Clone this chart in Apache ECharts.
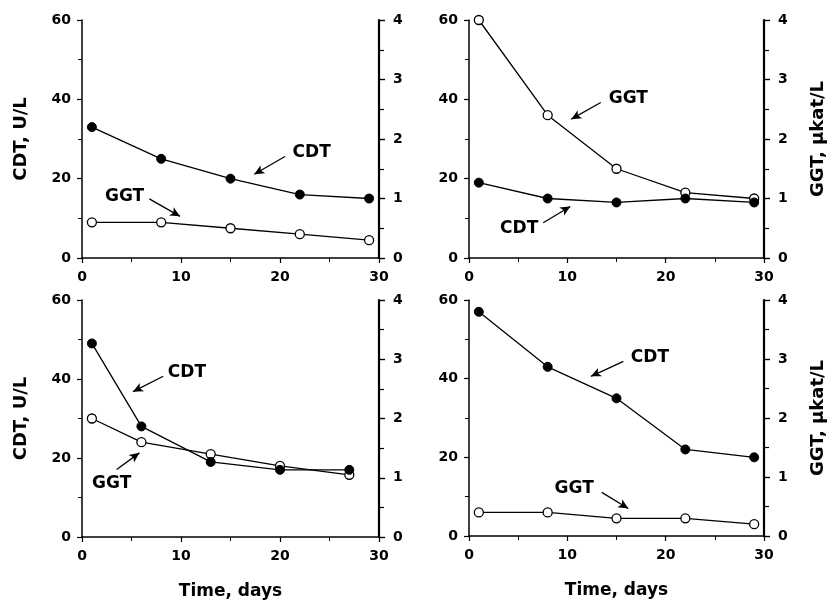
<!DOCTYPE html>
<html><head><meta charset="utf-8">
<script src="https://cdn.jsdelivr.net/npm/echarts@6/dist/echarts.min.js"></script>
<style>html,body{margin:0;padding:0;background:#fff}#c{width:828px;height:603px}</style>
</head><body><div id="c"></div>
<script>
// ---- data ----
const daysA = [1, 8, 15, 22, 29];
const daysB = [1, 6, 13, 20, 27];
const tlCDT = [33, 25, 20, 16, 15];
const tlGGT = [0.6, 0.6, 0.5, 0.4, 0.3];
const trCDT = [19, 15, 14, 15, 14];
const trGGT = [4.0, 2.4, 1.5, 1.1, 1.0];
const blCDT = [49, 28, 19, 17, 17];
const blGGT = [2.0, 1.6, 1.4, 1.2, 1.05];
const brCDT = [57, 43, 35, 22, 20];
const brGGT = [0.4, 0.4, 0.3, 0.3, 0.2];
const xTicks = [0, 10, 20, 30];
const leftTicks = [0, 20, 40, 60];
const rightTicks = [0, 1, 2, 3, 4];
const leftTitle = 'CDT, U/L';
const rightTitle = 'GGT, µkat/L';
const xTitle = 'Time, days';
// annotations in data units of the left axis: [label, textX, textY, arrowFromX, arrowFromY, arrowToX, arrowToY]
const tlNotes = [['CDT', 23.2, 26.6, 20.5, 25.6, 17.4, 21.1], ['GGT', 4.3, 15.6, 6.8, 14.9, 9.9, 10.5]];
const trNotes = [['GGT', 16.2, 40.2, 13.4, 39.2, 10.4, 35.0], ['CDT', 5.1, 7.4, 7.55, 8.9, 10.3, 13.0]];
const blNotes = [['CDT', 10.6, 41.6, 8.2, 40.7, 5.15, 36.8], ['GGT', 3.0, 13.4, 3.5, 17.1, 5.8, 21.3]];
const brNotes = [['CDT', 18.4, 45.3, 15.7, 44.4, 12.4, 40.6], ['GGT', 10.7, 12.1, 13.5, 11.1, 16.2, 7.0]];

const FONT = "'DejaVu Sans', 'Liberation Sans', Arial, sans-serif";
const panels = [
  {grid: {left: 82, top: 20, width: 297, height: 238}, days: daysA, cdt: tlCDT, ggt: tlGGT, notes: tlNotes, lt: true, rt: false, xt: false},
  {grid: {left: 469, top: 20, width: 295, height: 238}, days: daysA, cdt: trCDT, ggt: trGGT, notes: trNotes, lt: false, rt: true, xt: false},
  {grid: {left: 82, top: 300, width: 297, height: 237}, days: daysB, cdt: blCDT, ggt: blGGT, notes: blNotes, lt: true, rt: false, xt: true},
  {grid: {left: 469, top: 300, width: 295, height: 236}, days: daysA, cdt: brCDT, ggt: brGGT, notes: brNotes, lt: false, rt: true, xt: true}
];

const grid = [], xAxis = [], yAxis = [], series = [];
const axLine = w => ({show: true, lineStyle: {color: '#000', width: w}});
const labelStyle = {color: '#000', fontSize: 14, fontWeight: 'bold', fontFamily: FONT};
const titleStyle = {color: '#000', fontSize: 18, fontWeight: 'bold', fontFamily: FONT};
panels.forEach((p, i) => {
  grid.push(p.grid);
  xAxis.push({
    type: 'value', gridIndex: i, min: xTicks[0], max: xTicks[xTicks.length - 1], interval: xTicks[1] - xTicks[0],
    axisLine: axLine(1.5), axisTick: {show: true, length: 5, lineStyle: {color: '#000', width: 1.2}},
    minorTick: {show: true, splitNumber: 2, length: 4, lineStyle: {color: '#000', width: 1}},
    splitLine: {show: false}, axisLabel: Object.assign({margin: 12}, labelStyle),
    name: p.xt ? xTitle : '', nameLocation: 'middle', nameGap: 46,
    nameTextStyle: Object.assign({}, titleStyle, {fontSize: 17})
  });
  yAxis.push({
    type: 'value', gridIndex: i, position: 'left', min: leftTicks[0], max: leftTicks[leftTicks.length - 1], interval: leftTicks[1] - leftTicks[0],
    axisLine: axLine(1.5), axisTick: {show: true, length: 5, lineStyle: {color: '#000', width: 1.2}},
    minorTick: {show: true, splitNumber: 2, length: 4, lineStyle: {color: '#000', width: 1}},
    splitLine: {show: false}, axisLabel: Object.assign({margin: 11}, labelStyle),
    name: p.lt ? leftTitle : '', nameLocation: 'middle', nameGap: 52, nameRotate: 90,
    nameTextStyle: titleStyle
  });
  yAxis.push({
    type: 'value', gridIndex: i, position: 'right', min: rightTicks[0], max: rightTicks[rightTicks.length - 1], interval: rightTicks[1] - rightTicks[0],
    axisLine: axLine(2.2), axisTick: {show: true, length: 6, lineStyle: {color: '#000', width: 1.4}},
    minorTick: {show: true, splitNumber: 2, length: 5, lineStyle: {color: '#000', width: 1.2}},
    splitLine: {show: false}, axisLabel: Object.assign({margin: 14}, labelStyle),
    name: p.rt ? rightTitle : '', nameLocation: 'middle', nameGap: 45, nameRotate: 90,
    nameTextStyle: titleStyle
  });
  series.push({
    type: 'line', xAxisIndex: i, yAxisIndex: 2 * i + 1, z: 3,
    data: p.days.map((d, k) => [d, p.ggt[k]]),
    symbol: 'circle', symbolSize: 9, showSymbol: true,
    lineStyle: {color: '#000', width: 1.3},
    itemStyle: {color: '#fff', borderColor: '#000', borderWidth: 1.3},
    silent: true, animation: false
  });
  series.push({
    type: 'line', xAxisIndex: i, yAxisIndex: 2 * i, z: 4,
    data: p.days.map((d, k) => [d, p.cdt[k]]),
    symbol: 'circle', symbolSize: 9, showSymbol: true,
    lineStyle: {color: '#000', width: 1.3},
    itemStyle: {color: '#000', borderColor: '#000', borderWidth: 1},
    silent: true, animation: false,
    markLine: {
      silent: true, animation: false, symbol: ['none', 'arrow'], symbolSize: [7, 10],
      lineStyle: {color: '#000', width: 1.3, type: 'solid'}, label: {show: false},
      data: p.notes.map(n => [{coord: [n[3], n[4]]}, {coord: [n[5], n[6]]}])
    },
    markPoint: {
      silent: true, animation: false, symbol: 'rect', symbolSize: 1,
      itemStyle: {color: 'rgba(0,0,0,0)'},
      label: {show: true, position: 'inside', color: '#000', fontSize: 17, fontWeight: 'bold', fontFamily: FONT, formatter: q => q.name},
      data: p.notes.map(n => ({name: n[0], coord: [n[1], n[2]]}))
    }
  });
});

const chart = echarts.init(document.getElementById('c'), null, {renderer: 'canvas'});
chart.setOption({animation: false, backgroundColor: '#fff', grid, xAxis, yAxis, series});
</script></body></html>
